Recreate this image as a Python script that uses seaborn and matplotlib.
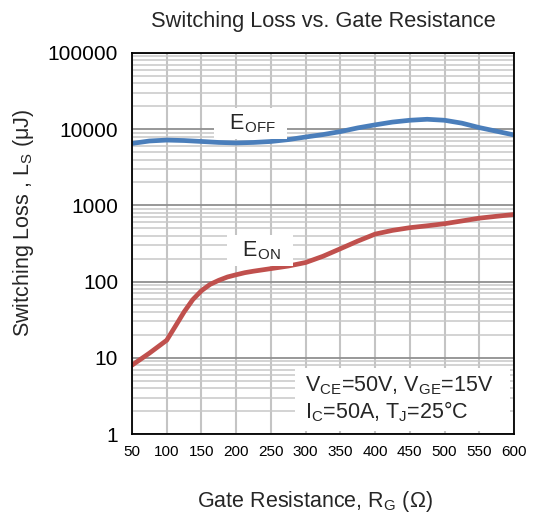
import numpy as np
import pandas as pd
import matplotlib
matplotlib.use('Agg')
import matplotlib.pyplot as plt
from matplotlib.patches import Rectangle
from matplotlib.ticker import LogLocator, NullFormatter, FixedLocator
import seaborn as sns

# ------------------------
# Data
# ------------------------

rg_off = [50, 75, 100, 125, 150, 175, 200, 225, 250, 275, 300, 325, 350,
          375, 400, 425, 450, 475, 500, 525, 550, 575, 600]
e_off = [6500, 7000, 7200, 7100, 6900, 6700, 6600, 6700, 6900, 7300, 7900, 8500, 9300,
         10400, 11400, 12400, 13100, 13500, 13100, 12000, 10500, 9400, 8400]

rg_on = [50, 75, 100, 112.5, 125, 137.5, 150, 162.5, 175, 187.5, 200, 212.5, 225,
         250, 275, 300, 325, 350, 375, 400, 425, 450, 475, 500, 525, 550, 575, 600]
e_on = [8, 11.5, 17, 26, 40, 58, 76, 92, 104, 115, 123, 131, 137,
        148, 160, 178, 215, 270, 340, 420, 470, 510, 540, 575, 625, 680, 720, 760]

x_ticks = [50, 100, 150, 200, 250, 300, 350, 400, 450, 500, 550, 600]
y_ticks = [1, 10, 100, 1000, 10000, 100000]

df = pd.DataFrame({'RG': rg_off + rg_on,
                   'Loss': e_off + e_on,
                   'Curve': ['EOFF'] * len(rg_off) + ['EON'] * len(rg_on)})

# ------------------------
# Plot
# ------------------------

sns.set_style('white')
plt.rcParams['font.family'] = ['Liberation Sans', 'DejaVu Sans']

fig = plt.figure(figsize=(5.37, 5.16), dpi=100)
ax = fig.add_axes([132 / 537, 1 - 434 / 516, 382 / 537, 381 / 516])
ax.set_axisbelow(True)

sns.lineplot(data=df, x='RG', y='Loss', hue='Curve',
             palette={'EOFF': '#4a7ebb', 'EON': '#c0504d'},
             linewidth=3.4, legend=False, ax=ax, zorder=3)

ax.set_yscale('log')
ax.set_xlim(50, 600)
ax.set_ylim(1, 100000)

ax.xaxis.set_major_locator(FixedLocator(x_ticks))
ax.yaxis.set_major_locator(FixedLocator(y_ticks))
ax.yaxis.set_minor_locator(LogLocator(base=10, subs=np.arange(2, 10), numticks=20))
ax.yaxis.set_minor_formatter(NullFormatter())

ax.grid(True, axis='x', which='major', color='#c4c4c4', linewidth=1.5)
ax.grid(True, axis='y', which='major', color='#909090', linewidth=1.3)
ax.grid(True, axis='y', which='minor', color='#c8c8c8', linewidth=1.1)
ax.tick_params(axis='both', which='both', length=0, colors='black')
ax.tick_params(axis='x', labelsize=11, pad=8)
ax.tick_params(axis='y', labelsize=15, pad=10)
ax.set_xticklabels([str(v) for v in x_ticks], fontsize=11)
ax.set_yticklabels([str(v) for v in y_ticks], fontsize=15)

for s in ax.spines.values():
    s.set_color('black')
    s.set_linewidth(1.3)
    s.set_zorder(5)

ax.set_xlabel('Gate Resistance, R$_\\mathregular{G}$ (Ω)', fontsize=15.5)
ax.set_ylabel('Switching Loss , L$_\\mathregular{S}$ (μJ)', fontsize=15.5)
ax.xaxis.set_label_coords(0.479, -0.144)
ax.yaxis.set_label_coords(-0.251, 0.554)
ax.set_title('Switching Loss vs. Gate Resistance', fontsize=15.7, pad=19)

ax.text(221, 10000, '  E$_\\mathregular{OFF}$  ', fontsize=15.5, ha='center', va='baseline',
        bbox=dict(facecolor='white', edgecolor='none', pad=3), zorder=4)
ax.text(234, 213, '  E$_\\mathregular{ON}$  ', fontsize=15.5, ha='center', va='baseline',
        bbox=dict(facecolor='white', edgecolor='none', pad=3), zorder=4)

# white panel behind the test conditions
ax.add_patch(Rectangle((0.427, 0.008), 0.563, 0.165, transform=ax.transAxes,
                       facecolor='white', edgecolor='none', zorder=2.5))
ax.text(299, 1.62, 'V$_\\mathregular{CE}$=50V, V$_\\mathregular{GE}$=15V\n'
        'I$_\\mathregular{C}$=50A, T$_\\mathregular{J}$=25°C',
        fontsize=15.5, ha='left', va='baseline', linespacing=1.1, zorder=4)

fig.savefig('out.png', dpi=100)
